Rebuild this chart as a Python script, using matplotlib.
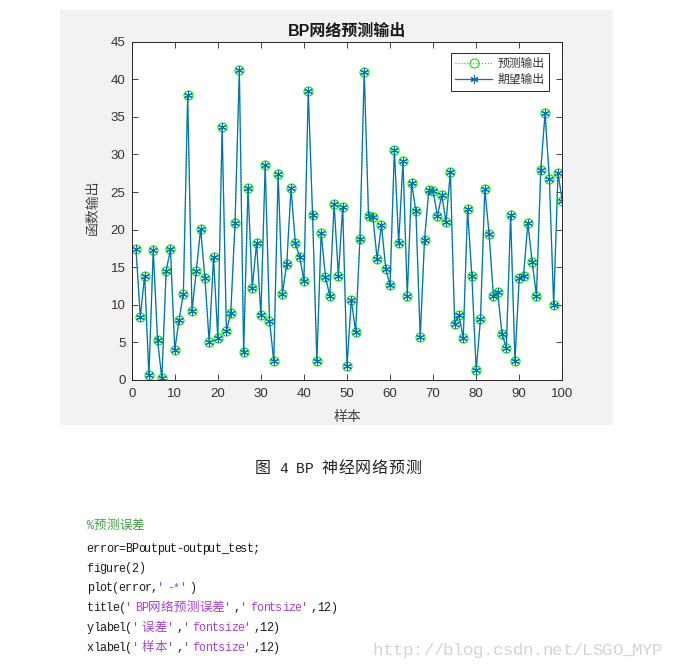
import matplotlib
matplotlib.use("Agg")
import matplotlib.pyplot as plt
from matplotlib.patches import Rectangle

W, H = 674, 667

# sample index and network outputs
samples = list(range(1, 101))
expected = [17.4, 8.4, 13.9, 0.6, 17.3, 5.3, 0.2, 14.5, 17.4, 4.0,
            8.0, 11.5, 37.9, 9.2, 14.5, 20.1, 13.6, 5.0, 16.3, 5.6,
            33.6, 6.5, 8.9, 20.9, 41.2, 3.7, 25.5, 12.3, 18.2, 8.6,
            28.6, 7.9, 2.5, 27.4, 11.5, 15.4, 25.5, 18.2, 16.4, 13.2,
            38.4, 22.0, 2.5, 19.6, 13.7, 11.2, 23.4, 13.9, 23.0, 1.8,
            10.7, 6.4, 18.8, 41.0, 21.8, 21.7, 16.1, 20.6, 14.8, 12.6,
            30.6, 18.2, 29.1, 11.2, 26.2, 22.5, 5.7, 18.6, 25.3, 25.2,
            21.8, 24.6, 21.0, 27.7, 7.5, 8.6, 5.6, 22.7, 13.8, 1.3,
            8.1, 25.4, 19.4, 11.2, 11.7, 6.1, 4.3, 21.9, 2.5, 13.6,
            13.9, 20.9, 15.7, 11.2, 28.0, 35.5, 26.7, 10.0, 27.5, 23.8]
# predicted output sits on top of the expected one everywhere
predicted = [17.4, 8.4, 13.9, 0.6, 17.3, 5.3, 0.2, 14.5, 17.4, 4.0,
             8.0, 11.5, 37.9, 9.2, 14.5, 20.1, 13.6, 5.0, 16.3, 5.6,
             33.6, 6.5, 8.9, 20.9, 41.2, 3.7, 25.5, 12.3, 18.2, 8.6,
             28.6, 7.9, 2.5, 27.4, 11.5, 15.4, 25.5, 18.2, 16.4, 13.2,
             38.4, 22.0, 2.5, 19.6, 13.7, 11.2, 23.4, 13.9, 23.0, 1.8,
             10.7, 6.4, 18.8, 41.0, 21.8, 21.7, 16.1, 20.6, 14.8, 12.6,
             30.6, 18.2, 29.1, 11.2, 26.2, 22.5, 5.7, 18.6, 25.3, 25.2,
             21.8, 24.6, 21.0, 27.7, 7.5, 8.6, 5.6, 22.7, 13.8, 1.3,
             8.1, 25.4, 19.4, 11.2, 11.7, 6.1, 4.3, 21.9, 2.5, 13.6,
             13.9, 20.9, 15.7, 11.2, 28.0, 35.5, 26.7, 10.0, 27.5, 23.8]

x_ticks = list(range(0, 101, 10))
y_ticks = list(range(0, 46, 5))

chart_title = "BP网络预测输出"
x_label = "样本"
y_label = "函数输出"
legend_labels = ["预测输出", "期望输出"]
caption = "图 4 BP 神经网络预测"
watermark = "http://blog.csdn.net/LSGO_MYP"

BLACK = "#1a1a1a"
PURPLE = "#a640d8"
GREEN = "#3f9f3f"
code_lines = [
    [("%预测误差", GREEN)],
    [("error=BPoutput-output_test;", BLACK)],
    [("figure(2)", BLACK)],
    [("plot(error,", BLACK), ("'-*'", PURPLE), (")", BLACK)],
    [("title(", BLACK), ("'BP网络预测误差'", PURPLE), (",", BLACK),
     ("'fontsize'", PURPLE), (",12)", BLACK)],
    [("ylabel(", BLACK), ("'误差'", PURPLE), (",", BLACK),
     ("'fontsize'", PURPLE), (",12)", BLACK)],
    [("xlabel(", BLACK), ("'样本'", PURPLE), (",", BLACK),
     ("'fontsize'", PURPLE), (",12)", BLACK)],
]
code_baselines = [529, 552, 571.5, 591, 611, 631, 651]

CJK = "Noto Sans CJK SC"
SANS = ["Liberation Sans", CJK]
MONO = "Liberation Mono"


def fx(px):
    return px / W


def fy(py):
    return 1 - py / H


def is_cjk(c):
    return ord(c) > 0x2E7F


def char_units(c):
    # SimSun style: half width latin, full width CJK, quotes a bit wider
    if is_cjk(c):
        return 2
    if c == "'":
        return 1.5
    return 1


def put_mono(px, py, pieces, half, lat_size, cjk_size, center=False):
    total = sum(char_units(c) for s, _ in pieces for c in s) * half
    x = px - total / 2 if center else px
    for s, col in pieces:
        for c in s:
            w = char_units(c) * half
            if c != " ":
                cx = x + half / 2 if c == "'" else x + w / 2
                fig.text(fx(cx), fy(py), c, ha="center", va="baseline", color=col,
                         family=CJK if is_cjk(c) else MONO,
                         fontsize=cjk_size if is_cjk(c) else lat_size)
            x += w


fig = plt.figure(figsize=(W / 100, H / 100), dpi=100)
fig.patch.set_facecolor("white")

# grey MATLAB figure window
fig.patches.append(Rectangle((fx(60), fy(425)), (613 - 60) / W, (425 - 10) / H,
                             transform=fig.transFigure, facecolor="#f4f1f4",
                             edgecolor="none", zorder=-5))

ax = fig.add_axes([fx(131.7), fy(380), (562.3 - 131.7) / W, (380 - 41.7) / H])
ax.set_facecolor("white")

l1, = ax.plot(samples, predicted, linestyle=":", color="#00e600", linewidth=0.8,
              marker="o", markersize=6.5, markerfacecolor="none",
              markeredgecolor="#00e600", markeredgewidth=0.8)
l2, = ax.plot(samples, expected, linestyle="-", color="#0072bd", linewidth=0.9,
              marker=(6, 2, 0), markersize=6, markeredgecolor="#0072bd",
              markeredgewidth=0.8)

ax.set_xlim(0, 100)
ax.set_ylim(0, 45)
ax.set_xticks(x_ticks)
ax.set_yticks(y_ticks)
ax.tick_params(direction="in", top=True, right=True, length=4, width=0.6,
               colors="#262626", labelsize=9.5, labelcolor="#333333")
ax.tick_params(axis="x", pad=6)
ax.tick_params(axis="y", pad=4.5)
for lab in ax.get_xticklabels() + ax.get_yticklabels():
    lab.set_family("Liberation Sans")
for sp in ax.spines.values():
    sp.set_linewidth(0.7)
    sp.set_color("#262626")

leg = ax.legend([l1, l2], legend_labels, loc="upper right",
                bbox_to_anchor=(fx(549), fy(53.3)), bbox_transform=fig.transFigure,
                borderaxespad=0, fancybox=False, framealpha=1, edgecolor="#262626",
                prop={"family": CJK, "size": 8.5}, handlelength=3.1,
                handletextpad=0.5, borderpad=0.35, labelspacing=0.25)
leg.get_frame().set_linewidth(0.7)
for t in leg.get_texts():
    t.set_color("#333333")

fig.text(fx(347), fy(31), chart_title, ha="center", va="center", family=SANS,
         weight="bold", fontsize=11.5, color="#1a1a1a")
fig.text(fx(347), fy(417), x_label, ha="center", va="center", family=CJK,
         fontsize=10, color="#444444")
fig.text(fx(93), fy(207.5), y_label, ha="center", va="center", rotation=90,
         family=CJK, fontsize=10, color="#444444")

# blog page text under the figure
put_mono(338, 473, [(caption, "#222222")], 8.35, 10.5, 11.5, center=True)
for pieces, base in zip(code_lines, code_baselines):
    put_mono(87, base, pieces, 6.4, 8.5, 9)
put_mono(373, 655, [(watermark, "#d4d4d4")], 9.97, 12.5, 12.5)

fig.savefig("out.png", dpi=100)
